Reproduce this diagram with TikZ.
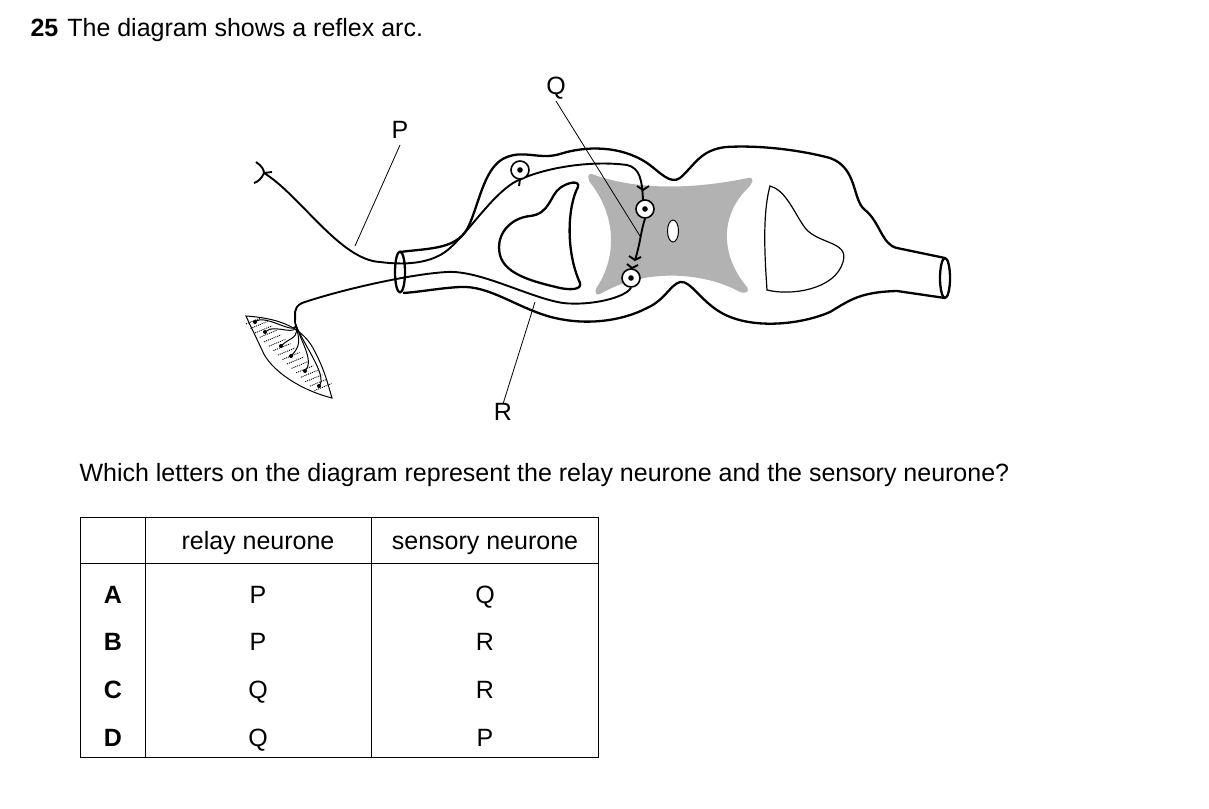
\documentclass[tikz,border=0pt]{standalone}
\usepackage{fontspec}
\setmainfont{Liberation Sans}
\usetikzlibrary{calc}
\begin{document}
\begin{tikzpicture}[x=1pt,y=-1pt,
    outline/.style={line width=2.3pt,line join=round},
    fibre/.style={line width=1.9pt},
    pointer/.style={line width=0.8pt},
    body/.style={draw,circle,fill=white,line width=1.6pt,minimum size=18pt,inner sep=0pt},
    lbl/.style={font=\fontsize{25}{28}\selectfont,text height=2.1ex,text depth=0pt,yshift=-3pt},
    txt/.style={font=\fontsize{25}{28}\selectfont,anchor=west}]
\useasboundingbox (0,0) rectangle (1209,808);

\node[txt] (qnum) at (27,30) {\textbf{25}\hspace{9pt}The diagram shows a reflex arc.};

% grey matter
\fill[black!30] (592,174) .. controls (640,192) and (700,188) .. (748,178)
  .. controls (756,177) and (752,184) .. (748,188)
  .. controls (720,215) and (720,255) .. (747,287)
  .. controls (750,292) and (746,294) .. (740,292)
  .. controls (710,275) and (650,265) .. (600,294)
  .. controls (594,296) and (595,290) .. (597,287)
  .. controls (615,260) and (618,220) .. (592,185)
  .. controls (586,178) and (588,173) .. (592,174) -- cycle;
\draw[fill=white,line width=1pt] (673,231) ellipse (5.5 and 11);

% spinal cord outline and roots
\draw[outline] (400,252) .. controls (430,248) and (460,250) .. (470,223)
  .. controls (480,200) and (485,165) .. (507,157)
  .. controls (525,150) and (540,160) .. (560,154)
  .. controls (585,146) and (620,145) .. (647,163)
  .. controls (660,172) and (670,185) .. (680,178)
  .. controls (695,165) and (700,150) .. (726,147)
  .. controls (760,145) and (800,150) .. (830,158)
  .. controls (858,168) and (852,200) .. (865,210)
  .. controls (880,222) and (882,245) .. (897,248)
  -- (945,258);
\draw[outline] (945,298) -- (897,291)
  .. controls (860,292) and (850,300) .. (830,312)
  .. controls (800,325) and (750,330) .. (720,312)
  .. controls (700,300) and (690,280) .. (680,282)
  .. controls (670,285) and (665,300) .. (647,308)
  .. controls (620,322) and (585,325) .. (555,318)
  .. controls (520,310) and (490,285) .. (460,287)
  .. controls (440,288) and (420,292) .. (403,293);
\draw[outline] (400,272) ellipse (5 and 20.5);
\draw[outline] (945,278) ellipse (5 and 20);

% white matter
\draw[outline] (578,187) .. controls (568,205) and (565,250) .. (580,283)
  .. controls (582,290) and (570,290) .. (560,288)
  .. controls (535,282) and (505,275) .. (500,255)
  .. controls (495,235) and (510,218) .. (530,216)
  .. controls (550,214) and (550,195) .. (560,188)
  .. controls (568,182) and (580,180) .. (578,187) -- cycle;
\draw[line width=1.2pt] (770,186) .. controls (762,215) and (765,260) .. (767,290)
  .. controls (790,296) and (835,290) .. (843,262)
  .. controls (850,240) and (815,245) .. (803,225)
  .. controls (793,210) and (785,190) .. (770,186) -- cycle;

% sensory neurone
\draw[fibre] (264,173) .. controls (300,195) and (340,260) .. (380,262)
  .. controls (410,266) and (435,262) .. (450,248)
  .. controls (470,230) and (490,198) .. (513,183)
  .. controls (540,168) and (590,160) .. (627,165)
  .. controls (640,168) and (642,180) .. (643,200);
\draw[fibre] (256,162) .. controls (262,166) and (264,170) .. (264,173)
  .. controls (262,178) and (258,182) .. (254,183);
\draw[fibre] (264,173) -- (272,172);
\draw[fibre] (520,179) -- (519,186);
\node[body] (ganglion) at (520,170) {};
\fill (ganglion) circle (2.8);
\draw[fibre] (637,186) -- (643,190) -- (649,186);

% relay neurone
\node[body] (relay) at (645,209) {};
\fill (relay) circle (2.8);
\draw[fibre] (relay.south) .. controls (641,230) and (640,245) .. (635,260);
\draw[fibre] (629,256) -- (635,260) -- (641,257);
\draw[fibre] (627,264) -- (632,268) -- (638,265);

% motor neurone
\node[body] (motor) at (631,278) {};
\fill (motor) circle (2.8);
\draw[fibre] (motor.south) .. controls (625,298) and (590,306) .. (563,303)
  .. controls (530,298) and (480,270) .. (447,272)
  .. controls (410,274) and (340,290) .. (302,303)
  .. controls (292,308) and (296,315) .. (295,322);

% muscle
\draw[line width=1pt] (246,316) .. controls (275,318) and (300,325) .. (313,348)
  .. controls (325,370) and (328,385) .. (332,398)
  .. controls (300,390) and (270,370) .. (262,350)
  .. controls (255,335) and (250,325) .. (246,316) -- cycle;
\foreach \t in {0.04,0.1,...,0.95}{
  \draw[line width=0.9pt,dash pattern=on 1pt off 1pt]
    ($(250,318)!\t!(326,392)$) ++(-7,3) -- ++(17,-7);
}
\foreach \px/\py in {255/322,265/332,281/346,291/356,305/371,319/386}{
  \draw[line width=1pt] (295,322) .. controls (300,340) and (\px+10,\py-10) .. (\px,\py);
  \fill (\px,\py) circle (2);
}

% labels
\node[lbl] (labP) at (400,130) {P};
\node[lbl] (labQ) at (556,86) {Q};
\node[lbl] (labR) at (503,412) {R};
\coordinate (tipP) at (355,246);
\coordinate (tipQ) at (640,236);
\coordinate (tipR) at (535,302);
\draw[pointer] ([yshift=-3pt]labP.south) -- (tipP);
\draw[pointer] ([yshift=-3pt]labQ.south) -- (tipQ);
\draw[pointer] ([yshift=2pt]labR.north) -- (tipR);

\node[txt] (question) at (76,475) {Which letters on the diagram represent the relay neurone and the sensory neurone?};

% table
\draw[line width=0.8pt] (80,517) rectangle (598,757);
\draw[line width=0.8pt] (80,563) -- (598,563);
\draw[line width=0.8pt] (145,517) -- (145,757);
\draw[line width=0.8pt] (371,517) -- (371,757);
\node[lbl] (hrelay) at (258,541) {relay neurone};
\node[lbl] (hsens) at (485,541) {sensory neurone};
\foreach \k/\a/\b/\y in {A/P/Q/595,B/P/R/642,C/Q/R/690,D/Q/P/738}{
  \node[lbl] (opt\k) at (113,\y) {\textbf{\k}};
  \node[lbl] (rel\k) at (258,\y) {\a};
  \node[lbl] (sen\k) at (485,\y) {\b};
}
\end{tikzpicture}
\end{document}
